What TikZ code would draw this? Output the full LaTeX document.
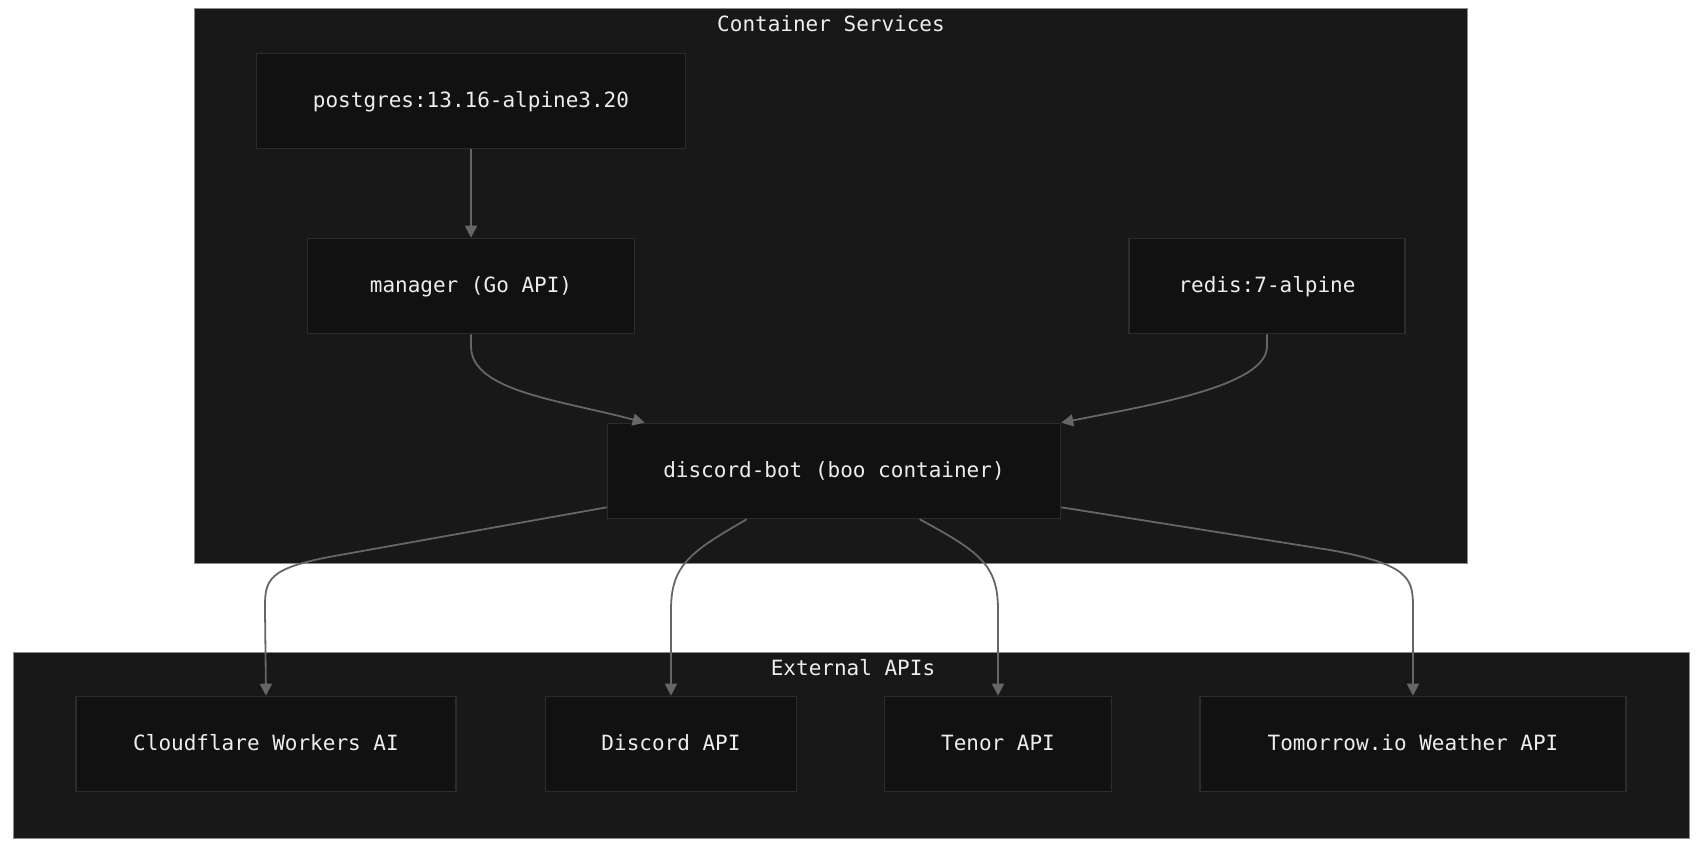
\documentclass[tikz,border=0pt]{standalone}
\usepackage{fontspec}
\setmonofont{DejaVu Sans Mono}
\usepackage{tikz}
\usetikzlibrary{arrows.meta,calc}

\definecolor{groupfill}{HTML}{181818}
\definecolor{groupline}{HTML}{8A8A8A}
\definecolor{boxfill}{HTML}{111111}
\definecolor{boxline}{HTML}{2C2C2C}
\definecolor{edgecol}{HTML}{666666}
\definecolor{txt}{HTML}{EDEDED}

\tikzset{
  svc/.style={draw=boxline, fill=boxfill, text=txt, line width=0.8pt,
    minimum height=47.5pt, inner sep=0pt, text depth=0.15em,
    font=\ttfamily\fontsize{10.5}{12}\selectfont},
  grp/.style={draw=groupline, fill=groupfill, line width=0.5pt},
  grptitle/.style={text=txt, font=\ttfamily\fontsize{10.5}{12}\selectfont},
  flow/.style={draw=edgecol, line width=0.9pt, -{Triangle[length=6pt,width=6pt]}},
}

\begin{document}
\begin{tikzpicture}[x=0.5pt,y=-0.5pt]
\useasboundingbox (0,0) rectangle (1699,847);

% groups
\draw[grp] (194,8) rectangle (1467,563);
\node[grptitle] (tcont) at (831,24) {Container Services};
\draw[grp] (13,652) rectangle (1689,838);
\node[grptitle] (text) at (853,668) {External APIs};

% services
\node[svc, minimum width=214.5pt] (pg) at (471,101) {postgres:13.16-alpine3.20};
\node[svc, minimum width=163.5pt] (mgr) at (471,286) {manager (Go API)};
\node[svc, minimum width=138pt] (redis) at (1267,286) {redis:7-alpine};
\node[svc, minimum width=226.5pt] (bot) at (834,471) {discord-bot (boo container)};

% external
\node[svc, minimum width=190pt] (cf) at (266,744) {Cloudflare Workers AI};
\node[svc, minimum width=125.5pt] (dapi) at (671,744) {Discord API};
\node[svc, minimum width=113.5pt] (tenor) at (998,744) {Tenor API};
\node[svc, minimum width=213pt] (tmrw) at (1413,744) {Tomorrow.io Weather API};

% links
\draw[flow] (pg) -- (mgr);
\draw[flow] (mgr.south) -- ++(0,12) .. controls +(0,45) and (560,400) .. ($(bot.north west)+(38,0)$);
\draw[flow] (redis.south) -- ++(0,12) .. controls +(0,40) and (1150,405) .. (bot.north east);
\draw[flow] ($(bot.south west)+(0,-12)$) -- (340,555) .. controls (265,568) and (265,580) .. (265,610) -- (cf.north);
\draw[flow] ($(bot.south west)+(140,0)$) .. controls (690,552) and (671,565) .. (671,610) -- (dapi.north);
\draw[flow] ($(bot.south west)+(313,0)$) .. controls (980,552) and (998,565) .. (998,610) -- (tenor.north);
\draw[flow] ($(bot.south east)+(0,-12)$) -- (1330,550) .. controls (1413,565) and (1413,580) .. (1413,610) -- (tmrw.north);
\end{tikzpicture}
\end{document}
